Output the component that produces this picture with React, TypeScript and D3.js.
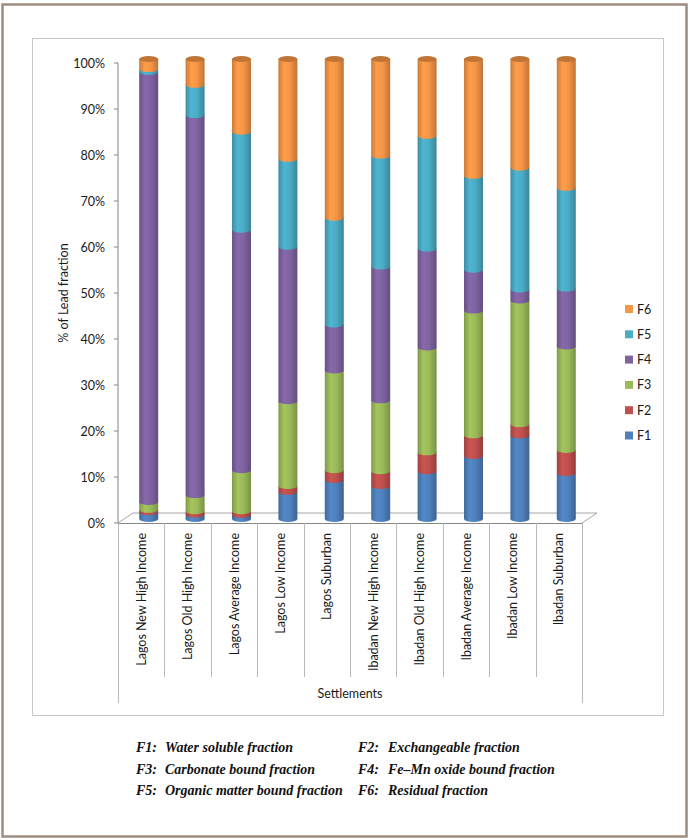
import React from "react";
import * as d3 from "d3";

const categories = [
  "Lagos New High Income",
  "Lagos Old High Income",
  "Lagos Average Income",
  "Lagos Low Income",
  "Lagos Suburban",
  "Ibadan New High Income",
  "Ibadan Old High Income",
  "Ibadan Average Income",
  "Ibadan Low Income",
  "Ibadan Suburban",
];
const F1 = [1.5, 1.0, 0.9, 5.9, 8.5, 7.2, 10.4, 13.7, 18.2, 10.0];
const F2 = [0.5, 0.7, 0.8, 1.3, 2.1, 3.2, 4.1, 4.5, 2.4, 5.0];
const F3 = [1.7, 3.5, 8.9, 18.4, 21.7, 15.4, 22.8, 27.1, 26.9, 22.5];
const F4 = [93.5, 82.6, 52.3, 33.6, 10.0, 29.1, 21.5, 8.9, 2.4, 12.6];
const F5 = [0.6, 6.6, 21.3, 19.1, 23.2, 24.1, 24.5, 20.4, 26.5, 21.9];
const F6 = [2.2, 5.6, 15.8, 21.7, 34.5, 21.0, 16.7, 25.4, 23.6, 28.0];
const seriesNames = ["F1", "F2", "F3", "F4", "F5", "F6"];
const seriesValues = [F1, F2, F3, F4, F5, F6];
const colors = ["#4F81BD", "#C0504D", "#9BBB59", "#8064A2", "#4BACC6", "#F79646"];
const yTicks = [0, 10, 20, 30, 40, 50, 60, 70, 80, 90, 100];
const footnotes = [
  ["F1:", "Water soluble fraction", "F2:", "Exchangeable fraction"],
  ["F3:", "Carbonate bound fraction", "F4:", "Fe\u2013Mn oxide bound fraction"],
  ["F5:", "Organic matter bound fraction", "F6:", "Residual fraction"],
];

const FONT = "Lato, 'Open Sans', sans-serif";
const SERIF = "'Liberation Serif', 'DejaVu Serif', serif";

export default function App() {
  const rows = categories.map((c, i) => {
    const r: any = { cat: c };
    seriesNames.forEach((s, k) => (r[s] = seriesValues[k][i]));
    return r;
  });
  const stacked = d3.stack().keys(seriesNames).offset(d3.stackOffsetExpand)(rows);

  const x0 = 118, x1 = 582;
  const xBand = d3.scaleBand<string>().domain(categories).range([x0, x1]).padding(0);
  const depthX = 15, depthY = -10;
  const yAxis = d3.scaleLinear().domain([0, 100]).range([523, 63]);
  const yBar = (v: number) => yAxis(v * 100) + depthY / 2 + 1;
  const rx = 9.5, ry = 3;

  const cylPath = (cx: number, yb: number, yt: number) =>
    `M${cx - rx},${yt} L${cx - rx},${yb} A${rx},${ry} 0 0 0 ${cx + rx},${yb} L${cx + rx},${yt} Z`;

  return (
    <svg
      width={690}
      height={840}
      style={{ position: "absolute", left: 0, top: 0, display: "block", background: "#fff" }}
    >
      <defs>
        {colors.map((c, k) => {
          const base = d3.color(c)!;
          return (
            <linearGradient key={k} id={`g${k}`} x1="0" x2="1" y1="0" y2="0">
              <stop offset="0%" stopColor={base.darker(0.55).formatHex()} />
              <stop offset="30%" stopColor={base.brighter(0.15).formatHex()} />
              <stop offset="60%" stopColor={base.formatHex()} />
              <stop offset="100%" stopColor={base.darker(0.7).formatHex()} />
            </linearGradient>
          );
        })}
      </defs>
      {/* outer frame */}
      <rect x={2.5} y={4.5} width={684} height={832} fill="none" stroke="#9e8c7f" strokeWidth={2.5} />
      {/* chart area frame */}
      <rect x={32.5} y={38.5} width={631} height={677} fill="none" stroke="#c6c6c6" strokeWidth={1} />

      {/* floor */}
      <path
        d={`M${x0},${yAxis(0)} L${x0 + depthX},${yAxis(0) + depthY} L${x1 + depthX},${yAxis(0) + depthY} L${x1},${yAxis(0)}`}
        fill="#fff"
        stroke="#a6a6a6"
        strokeWidth={1}
      />
      {/* y axis */}
      <line x1={x0} x2={x0} y1={yAxis(0)} y2={yAxis(100)} stroke="#868686" />
      {yTicks.map((t) => (
        <g key={t}>
          <line x1={x0 - 4} x2={x0} y1={yAxis(t)} y2={yAxis(t)} stroke="#868686" />
          <text
            x={105}
            y={yAxis(t)}
            textAnchor="end"
            dominantBaseline="central"
            fontFamily={FONT}
            fontSize={12.5}
            fill="#1a1a1a"
          >
            {t}%
          </text>
        </g>
      ))}
      <text
        transform={`translate(63,${yAxis(50)}) rotate(-90)`}
        textAnchor="middle"
        dominantBaseline="central"
        fontFamily={FONT}
        fontSize={12.5}
        fill="#1a1a1a"
      >
        % of Lead fraction
      </text>

      {/* category axis */}
      <line x1={x0} x2={x1} y1={yAxis(0) + 0.5} y2={yAxis(0) + 0.5} stroke="#868686" />
      {d3.range(categories.length + 1).map((i) => {
        const xx = x0 + i * xBand.bandwidth();
        const outer = i === 0 || i === categories.length;
        return (
          <line
            key={i}
            x1={Math.round(xx) + 0.5}
            x2={Math.round(xx) + 0.5}
            y1={yAxis(0)}
            y2={outer ? 703 : 677}
            stroke="#b8b8b8"
          />
        );
      })}
      {categories.map((c) => (
        <text
          key={c}
          transform={`translate(${xBand(c)! + xBand.bandwidth() / 2},533) rotate(-90)`}
          textAnchor="end"
          dominantBaseline="central"
          fontFamily={FONT}
          fontSize={12.5}
          fill="#1a1a1a"
        >
          {c}
        </text>
      ))}
      <text x={350} y={693} textAnchor="middle" dominantBaseline="central" fontFamily={FONT} fontSize={12.5} fill="#1a1a1a">
        Settlements
      </text>

      {/* bars */}
      {categories.map((c, i) => {
        const cx = xBand(c)! + xBand.bandwidth() / 2 + depthX / 2;
        const last = stacked[stacked.length - 1][i];
        return (
          <g key={c}>
            {stacked.map((s, k) => {
              const d = s[i];
              return <path key={k} d={cylPath(cx, yBar(d[0]), yBar(d[1]))} fill={`url(#g${k})`} />;
            })}
            <ellipse
              cx={cx}
              cy={yBar(last[1])}
              rx={rx}
              ry={ry}
              fill={d3.color(colors[5])!.darker(0.7).formatHex()}
            />
          </g>
        );
      })}

      {/* legend */}
      {seriesNames
        .slice()
        .reverse()
        .map((s, j) => {
          const k = seriesNames.length - 1 - j;
          const yy = 309 + j * 25.3;
          return (
            <g key={s}>
              <rect x={625} y={yy - 4} width={8} height={8} fill={colors[k]} />
              <text x={637} y={yy} dominantBaseline="central" fontFamily={FONT} fontSize={12.5} fill="#1a1a1a">
                {s}
              </text>
            </g>
          );
        })}

      {/* footnotes */}
      {footnotes.map((r, i) => {
        const yy = 752 + i * 21.5;
        return (
          <g key={i} fontFamily={SERIF} fontStyle="italic" fontWeight="bold" fontSize={14} fill="#111">
            <text x={136} y={yy}>{r[0]}</text>
            <text x={165} y={yy}>{r[1]}</text>
            <text x={358} y={yy}>{r[2]}</text>
            <text x={388} y={yy}>{r[3]}</text>
          </g>
        );
      })}
    </svg>
  );
}
